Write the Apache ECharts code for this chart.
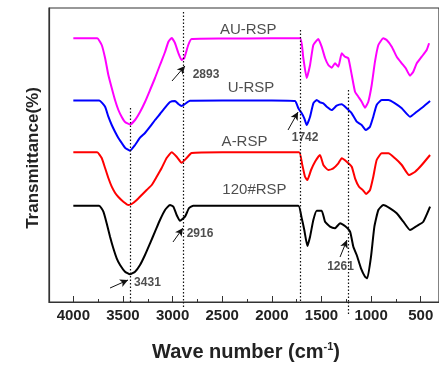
<!DOCTYPE html>
<html>
<head>
<meta charset="utf-8">
<script src="https://cdn.jsdelivr.net/npm/echarts@6/dist/echarts.min.js"></script>
<style>html,body{margin:0;padding:0;background:#fff}#c{width:439px;height:365px}</style>
</head>
<body>
<div id="c"></div>
<script>
// ---- data (wave number, cm-1) and transmittance (arbitrary, stacked offsets) ----
const xTicks = [4000, 3500, 3000, 2500, 2000, 1500, 1000, 500];
const xMinorTicks = [3750, 3250, 2750, 2250, 1750, 1250, 750];

const auWave = [4000,3760,3714,3680,3647,3613,3580,3546,3512,3479,3429,3378,3328,3278,3227,3177,3127,3076,3043,3009,2976,2942,2909,2882,2842,2808,2500,2000,1716,1683,1649,1615,1582,1532,1498,1464,1431,1397,1364,1330,1296,1263,1229,1195,1162,1129,1095,1061,1028,994,961,927,877,843,792,742,691,651,608,575,540,490,440,416];
const auT    = [263.7,263.7,257,244,227,214,202,192,185,180,177.5,182,190,200,212,224,237,250,260,264,259,249,242,244,257,263,263.5,263.7,263.7,244,224,237,257,263,255.3,244,237,234.3,238.7,235.3,248.7,245.3,243.7,227,210.3,205.3,200.3,194.3,200.3,217,240.3,257,263.7,262,255.3,245.3,238.7,233.7,226.3,230.3,238.7,245.3,252,258.7];

const uWave = [4000,3740,3680,3647,3613,3580,3546,3512,3479,3429,3378,3328,3278,3227,3177,3127,3076,3026,2976,2942,2909,2876,2825,2500,2000,1767,1733,1699,1673,1649,1615,1582,1548,1515,1481,1447,1397,1347,1296,1246,1195,1145,1095,1054,1011,978,944,893,826,759,691,608,540,474,406];
const uT    = [201.5,201.5,195.3,185.3,177,170.3,164,159,154.3,151.3,157,164.3,169,175.3,182,188,194.3,200,201,198,196,198,201.3,201.5,201.5,201,193.7,188.7,183.7,177,185.3,198.7,202,199.7,198.7,195.3,192,196.3,197.7,193.7,188.7,180.3,177,172,175.3,185.3,197,202,202,198.7,193.7,185.3,190.3,195.3,201];

const aWave = [4000,3760,3714,3680,3647,3613,3580,3546,3496,3445,3412,3361,3311,3261,3210,3160,3110,3060,3009,2959,2909,2858,2808,2500,2000,1726,1693,1666,1642,1605,1565,1515,1481,1431,1381,1330,1296,1246,1195,1162,1122,1078,1051,1011,978,944,893,826,759,691,618,556,490,406];
const aT    = [149.7,149.7,144,134,124,115.3,109.3,105,100.3,97,98,102,107,112,117,125.3,134,144,149.7,145.3,139.3,144,149,149.7,149.7,149.7,137,125.3,122,132,140.3,147,137,132,133.7,138.7,143.7,140.3,135.3,123.7,115.3,111.3,108,112,125.3,142,148.7,148.7,143.7,137,127,130.3,137,147];

const rspWave = [4000,3740,3697,3664,3630,3597,3563,3529,3479,3429,3378,3328,3278,3227,3177,3127,3076,3026,2992,2959,2925,2875,2834,2791,2500,2000,1733,1699,1673,1642,1615,1582,1548,1498,1464,1414,1364,1313,1263,1212,1179,1145,1102,1061,1038,1001,967,927,877,809,742,675,608,540,474,406];
const rspT    = [96.3,96.3,90.3,78.7,65.3,53.7,43.7,37,30.3,27.7,30.3,37,47,58.7,70.3,82,92,97,95.3,87,81.3,85.3,94,96.3,96.3,96.3,96.3,83.7,72,56,65.3,82,91.3,91.3,80.3,75.3,73.7,78.7,76,70.3,55.3,47,33.7,25.3,23.7,45.3,75.3,92,97,93.7,88.7,80.3,72,76,80.3,95.3];

const seriesNames  = ['AU-RSP', 'U-RSP', 'A-RSP', '120#RSP'];
const seriesColors = ['#ff00ff', '#0000ff', '#ff0000', '#000000'];
// name label anchor positions [wave, T]
const nameLabelWave = [2238, 2210, 2275, 2175];
const nameLabelT    = [272, 214, 160, 112];

// peak annotation texts and their anchor positions
const peakTexts    = ['2893', '1742', '2916', '3431', '1261'];
const peakTextWave = [2663, 1665, 2724, 3253, 1308];
const peakTextT    = [227, 164, 68, 19, 35];
// arrows (from -> to)
const arrowFromWave = [3006, 1837, 2996, 3630, 1313];
const arrowFromT    = [221, 172, 60, 14, 45];
const arrowToWave   = [2875, 1736, 2895, 3449, 1243];
const arrowToT      = [236, 190, 74, 22, 62];
// dotted guide lines (inside the plot), and their short extension below the axis
const guideWave = [3431, 2895, 1716, 1232];
const guideTop  = [194, 290, 272, 212];
const extWave   = [2895, 1232];
const extDepth  = [5, 13];

// ---- build ----
const X_MIN = 316, X_MAX = 4245;
const waves = [auWave, uWave, aWave, rspWave];
const vals  = [auT, uT, aT, rspT];
const FONT = '"Liberation Sans", Arial, sans-serif';

const series = seriesNames.map((n, i) => ({
  name: n, type: 'line', showSymbol: false, smooth: 0.15,
  lineStyle: { color: seriesColors[i], width: 2 },
  itemStyle: { color: seriesColors[i] },
  data: waves[i].map((w, k) => [w, vals[i][k]]),
  z: 3
}));

const dotted = { color: '#111', type: [1.5, 2], width: 1.2 };
series.push({
  type: 'line', data: [], silent: true,
  markLine: {
    silent: true, animation: false, symbol: ['none', 'none'], label: { show: false },
    lineStyle: dotted,
    data: guideWave.map((w, i) => [{ coord: [w, guideTop[i]] }, { coord: [w, 0] }])
  }
});
series.push({
  type: 'line', data: [], silent: true, xAxisIndex: 2, yAxisIndex: 1,
  markLine: {
    silent: true, animation: false, symbol: ['none', 'none'], label: { show: false },
    lineStyle: dotted,
    data: extWave.map((w, i) => [{ coord: [w, 14] }, { coord: [w, 14 - extDepth[i]] }])
  }
});
series.push({
  type: 'line', data: [], silent: true,
  markLine: {
    silent: true, animation: false,
    symbol: ['none', 'arrow'], symbolSize: [6, 8], label: { show: false },
    lineStyle: { color: '#111', type: 'solid', width: 1 },
    data: arrowFromWave.map((w, i) => [{ coord: [w, arrowFromT[i]] }, { coord: [arrowToWave[i], arrowToT[i]] }])
  }
});
series.push({
  type: 'scatter', symbolSize: 0, silent: true, animation: false,
  data: nameLabelWave.map((w, i) => ({ value: [w, nameLabelT[i]], name: seriesNames[i] })),
  label: { show: true, position: 'inside', formatter: p => p.name, color: '#222', fontSize: 15, fontFamily: FONT }
});
series.push({
  type: 'scatter', symbolSize: 0, silent: true, animation: false,
  data: peakTextWave.map((w, i) => ({ value: [w, peakTextT[i]], name: peakTexts[i] })),
  label: { show: true, position: 'inside', formatter: p => p.name, color: '#222', fontSize: 12, fontWeight: 'bold', fontFamily: FONT }
});

const chart = echarts.init(document.getElementById('c'), null, { renderer: 'canvas' });
chart.setOption({
  animation: false,
  backgroundColor: '#fff',
  grid: [
    { left: 49, top: 8, width: 390, height: 294, show: true, borderColor: '#333', borderWidth: 1.2 },
    { left: 49, top: 302, width: 390, height: 14, show: false }
  ],
  xAxis: [
    {
      type: 'value', inverse: true, min: X_MIN, max: X_MAX, position: 'bottom',
      axisLine: { show: true, lineStyle: { color: '#333', width: 1.2 } },
      axisTick: { show: true, inside: true, length: 6, customValues: xTicks, lineStyle: { color: '#333' } },
      splitLine: { show: false },
      axisLabel: { customValues: xTicks, formatter: v => String(v), color: '#222', fontSize: 15, fontWeight: 'bold', margin: 6, fontFamily: FONT }
    },
    {
      type: 'value', inverse: true, min: X_MIN, max: X_MAX, position: 'bottom', offset: 0,
      axisLine: { show: false },
      axisTick: { show: true, inside: true, length: 3, customValues: xMinorTicks, lineStyle: { color: '#333' } },
      splitLine: { show: false }, axisLabel: { show: false }
    },
    { type: 'value', gridIndex: 1, inverse: true, min: X_MIN, max: X_MAX, show: false }
  ],
  yAxis: [
    {
      type: 'value', min: 0, max: 294,
      axisLine: { show: true, lineStyle: { color: '#333', width: 1.2 } },
      axisTick: { show: false }, axisLabel: { show: false }, splitLine: { show: false }
    },
    { type: 'value', gridIndex: 1, min: 0, max: 14, show: false }
  ],
  graphic: [
    { type: 'text', silent: true, x: 246, y: 352,
      style: {
        align: 'center', verticalAlign: 'middle',
        text: 'Wave number (cm{sup|-1})',
        font: 'bold 20px ' + FONT, fill: '#222',
        rich: { sup: { font: 'bold 11px ' + FONT, fill: '#222', verticalAlign: 'top', padding: [0, 0, 10, 0] } }
      }
    },
    { type: 'text', silent: true, rotation: Math.PI / 2, x: 33, y: 158,
      style: { align: 'center', verticalAlign: 'middle', text: 'Transmittance(%)', font: 'bold 17px ' + FONT, fill: '#222' } }
  ],
  series: series
});
</script>
</body>
</html>
